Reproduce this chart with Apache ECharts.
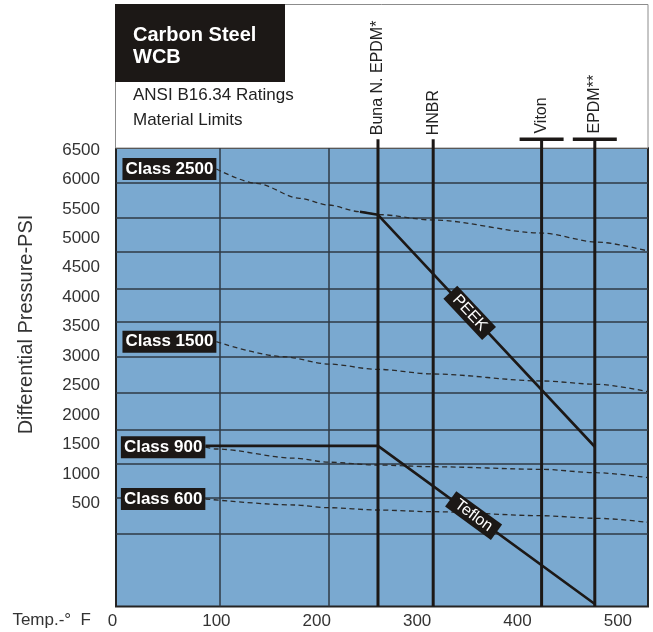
<!DOCTYPE html>
<html>
<head>
<meta charset="utf-8">
<script src="https://cdn.jsdelivr.net/npm/echarts@6/dist/echarts.min.js"></script>
<style>
  html, body { margin: 0; padding: 0; background: #ffffff; }
  #main { width: 653px; height: 632px; }
</style>
</head>
<body>
<div id="main"></div>
<script>
// ---- Data -------------------------------------------------------------
// Pressure class rating curves (temperature °F, differential pressure psi)
const classNames = ['Class 2500', 'Class 1500', 'Class 900', 'Class 600'];
const class2500 = [[100, 6177], [140, 5934], [183, 5680], [211.5, 5566], [243, 5452], [261, 5404], [316, 5311], [424, 5090], [479, 4937], [530, 4785]];
const class1500 = [[100, 3244], [167, 2989], [211.5, 2865], [260, 2775], [316, 2696], [424, 2577], [479, 2521], [530, 2395]];
const class900  = [[89, 1452], [100, 1422], [178, 1266], [211.5, 1198], [260, 1150], [316, 1121], [424, 1077], [479, 1019], [530, 934]];
const class600  = [[89, 573], [178, 471], [211.5, 425], [260, 386], [316, 357], [424, 289], [479, 245], [530, 177]];

// Seat material limits
const teflon = [[89, 1475], [261, 1475], [477, -1210]];
const peek   = [[243, 5452], [261, 5400], [477, 1460]];
const tagNames = ['PEEK', 'Teflon'];
const tagFractions = [0.423, 0.441];   // where each tag sits along its sloped segment

// Elastomer temperature limits
const materialNames = ['Buna N. EPDM*', 'HNBR', 'Viton', 'EPDM**'];
const materialTemps = [261, 316, 424, 477];
const materialCapped = [false, false, true, true];
const materialTop = 6682;

// Axis ranges, tick labels and the chart's own grid rulings
const yMin = -1253, yMax = 6534;
const xMin = 0, xMax = 530;
const yTicks = [500, 1000, 1500, 2000, 2500, 3000, 3500, 4000, 4500, 5000, 5500, 6000, 6500];
const xTicks = [0, 100, 200, 300, 400, 500];
const gridTemps = [103, 211.5];
const gridPressures = [5945, 5357, 4773, 4151, 3584, 2991, 2378, 1744, 1179, 598, -25];

// ---- Styling ----------------------------------------------------------
const FONT = '"Liberation Sans", Arial, Helvetica, sans-serif';
const INK = '#1c1816';
const PLOT_BG = '#7aa9d0';

const chart = echarts.init(document.getElementById('main'), null, { renderer: 'canvas' });

function classSeries(name, pts) {
  return {
    id: name,
    type: 'line',
    silent: true,
    smooth: 0.3,
    smoothMonotone: 'x',
    symbol: 'circle',
    symbolSize: 0,
    showSymbol: true,
    clip: false,
    z: 3,
    lineStyle: { color: '#2b2b2b', width: 1.3, type: [5, 3.5] },
    itemStyle: { color: '#2b2b2b', opacity: 1 },
    data: pts.map((p, i) => i === 0 ? {
      value: p,
      label: {
        show: true, formatter: name, position: 'left', distance: 0,
        color: '#ffffff', fontFamily: FONT, fontWeight: 'bold', fontSize: 17, lineHeight: 17,
        backgroundColor: INK, padding: [3, 3, 2, 3]
      }
    } : p)
  };
}

function sealSeries(id, pts) {
  return {
    id: id,
    type: 'line',
    silent: true,
    symbol: 'none',
    clip: false,
    z: 6,
    lineStyle: { color: INK, width: 2.6 },
    data: pts
  };
}

function materialSeries(i) {
  const capped = materialCapped[i];
  return {
    id: 'mat' + i,
    type: 'line',
    silent: true,
    clip: false,
    showSymbol: true,
    z: 5,
    lineStyle: { color: INK, width: 3 },
    itemStyle: { color: INK, opacity: 1 },
    data: [
      {
        value: [materialTemps[i], materialTop],
        symbol: capped ? 'rect' : 'circle',
        symbolSize: capped ? [44, 3.5] : 0,
        label: {
          show: true, formatter: materialNames[i], position: 'top', distance: 4,
          rotate: 90, align: 'left', verticalAlign: 'middle',
          color: '#222222', fontFamily: FONT, fontSize: 16
        }
      },
      { value: [materialTemps[i], yMin], symbol: 'circle', symbolSize: 0 }
    ]
  };
}

function tagPoint(pts, t) {
  const a = pts[1], b = pts[2];
  return [a[0] + t * (b[0] - a[0]), a[1] + t * (b[1] - a[1])];
}

const tagLabel = {
  show: true, position: 'inside', rotate: 0, opacity: 1,
  color: '#ffffff', fontFamily: FONT, fontSize: 16, lineHeight: 16,
  backgroundColor: INK, padding: [2, 7, 1, 7]
};

const tagSeries = {
  id: 'tags',
  type: 'scatter',
  silent: true,
  symbolSize: 0,
  z: 8,
  itemStyle: { opacity: 1, color: INK },
  data: [peek, teflon].map((pts, i) => ({
    value: tagPoint(pts, tagFractions[i]),
    label: Object.assign({}, tagLabel, { formatter: tagNames[i] })
  }))
};

const rulings = {
  id: 'rulings',
  type: 'line',
  silent: true,
  data: [],
  z: 1,
  markLine: {
    silent: true,
    z: 1,
    symbol: 'none',
    label: { show: false },
    animation: false,
    lineStyle: { color: '#2f3a45', width: 1.5, type: 'solid' },
    data: gridTemps.map(v => ({ xAxis: v })).concat(gridPressures.map(v => ({ yAxis: v })))
  }
};

const option = {
  animation: false,
  backgroundColor: '#ffffff',
  textStyle: { fontFamily: FONT },
  grid: {
    left: 116, top: 148, right: 5, bottom: 25.5,
    show: true, backgroundColor: PLOT_BG, borderColor: '#242424', borderWidth: 2,
    containLabel: false, outerBoundsMode: 'none'
  },
  xAxis: {
    type: 'value', min: xMin, max: xMax,
    name: 'Temp.-°  F', nameLocation: 'start', nameGap: 25,
    nameTextStyle: { color: '#333333', fontSize: 17, fontFamily: FONT, verticalAlign: 'top', lineHeight: 28 },
    axisLine: { show: false, onZero: false }, axisTick: { show: false }, splitLine: { show: false },
    axisLabel: {
      customValues: xTicks, margin: 6, color: '#333333', fontSize: 17, fontFamily: FONT,
      formatter: v => v === 0 ? '{z|0}' : String(v),
      rich: { z: { padding: [0, 7, 0, 0], fontSize: 17, color: '#333333', fontFamily: FONT } }
    }
  },
  yAxis: {
    type: 'value', min: yMin, max: yMax,
    name: 'Differential Pressure-PSI', nameLocation: 'middle', nameGap: 80,
    nameTextStyle: { color: '#333333', fontSize: 20, fontFamily: FONT, padding: [0, 0, 0, 105.5] },
    axisLine: { show: false, onZero: false }, axisTick: { show: false }, splitLine: { show: false },
    axisLabel: {
      customValues: yTicks, margin: 16, color: '#333333', fontSize: 17, fontFamily: FONT,
      formatter: v => String(v)
    }
  },
  graphic: [
    { type: 'rect', z: 0, shape: { x: 115.5, y: 4.5, width: 532.5, height: 143.5 },
      style: { fill: '#ffffff', stroke: '#8c8c8c', lineWidth: 1 } },
    { type: 'rect', z: 1, shape: { x: 115, y: 4, width: 170, height: 78 }, style: { fill: INK } },
    { type: 'text', z: 2, x: 133, y: 35.5,
      style: { text: 'Carbon Steel', fill: '#ffffff', fontFamily: FONT, fontWeight: 'bold', fontSize: 20, verticalAlign: 'middle' } },
    { type: 'text', z: 2, x: 133, y: 57,
      style: { text: 'WCB', fill: '#ffffff', fontFamily: FONT, fontWeight: 'bold', fontSize: 20, verticalAlign: 'middle' } },
    { type: 'text', z: 2, x: 133, y: 95.5,
      style: { text: 'ANSI B16.34 Ratings', fill: '#222222', fontFamily: FONT, fontSize: 17, verticalAlign: 'middle' } },
    { type: 'text', z: 2, x: 133, y: 120.2,
      style: { text: 'Material Limits', fill: '#222222', fontFamily: FONT, fontSize: 17, verticalAlign: 'middle' } }
  ],
  series: [
    rulings,
    classSeries(classNames[0], class2500),
    classSeries(classNames[1], class1500),
    classSeries(classNames[2], class900),
    classSeries(classNames[3], class600),
    materialSeries(0), materialSeries(1), materialSeries(2), materialSeries(3),
    sealSeries('peek', peek),
    sealSeries('teflon', teflon),
    tagSeries
  ]
};

chart.setOption(option);

// Turn each tag so it lies along its sloped segment on screen
const angles = [peek, teflon].map(pts => {
  const a = chart.convertToPixel({ gridIndex: 0 }, pts[1]);
  const b = chart.convertToPixel({ gridIndex: 0 }, pts[2]);
  return -Math.atan2(b[1] - a[1], b[0] - a[0]) * 180 / Math.PI;
});
chart.setOption({
  series: [{
    id: 'tags',
    data: tagSeries.data.map((d, i) => ({ value: d.value, label: Object.assign({}, d.label, { rotate: angles[i] }) }))
  }]
});
</script>
</body>
</html>
